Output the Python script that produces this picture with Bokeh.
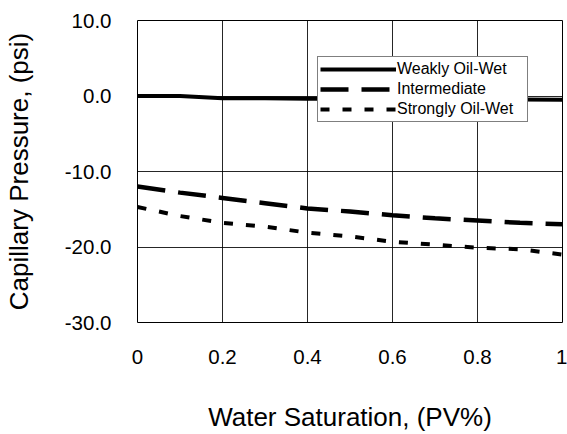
from bokeh.plotting import figure
from bokeh.models import Range1d, FixedTicker, Legend, LegendItem
from bokeh.embed import file_html
from bokeh.resources import INLINE

# ---- data ----
water_sat = [0.0, 0.1, 0.2, 0.3, 0.4, 0.5, 0.6, 0.7, 0.8, 0.9, 1.0]
weakly_oil_wet = [0.0, 0.0, -0.3, -0.3, -0.35, -0.35, -0.4, -0.4, -0.45, -0.45, -0.5]
intermediate = [-12.0, -12.8, -13.5, -14.2, -14.9, -15.3, -15.8, -16.2, -16.5, -16.8, -17.0]
strongly_oil_wet = [-14.7, -15.9, -16.8, -17.3, -18.1, -18.6, -19.3, -19.7, -20.1, -20.3, -21.0]

series_names = ["Weakly Oil-Wet", "Intermediate", "Strongly Oil-Wet"]

x_ticks = [0.0, 0.2, 0.4, 0.6, 0.8, 1.0]
x_tick_labels = ["0", "0.2", "0.4", "0.6", "0.8", "1"]
y_ticks = [10, 0, -10, -20, -30]
y_tick_labels = ["10.0", "0.0", "-10.0", "-20.0", "-30.0"]

x_title = "Water Saturation, (PV%)"
y_title = "Capillary Pressure, (psi)"

FONT = "Liberation Sans"

p = figure(width=567, height=434, output_backend="svg", toolbar_location=None,
           x_range=Range1d(0, 1), y_range=Range1d(-30, 10),
           min_border_left=137, min_border_right=5, min_border_top=20, min_border_bottom=111)

p.background_fill_color = "white"
p.border_fill_color = "white"
p.outline_line_color = "black"
p.outline_line_width = 1

for ax in (p.xaxis[0], p.yaxis[0]):
    ax.axis_line_color = None
    ax.major_tick_line_color = None
    ax.minor_tick_line_color = None
    ax.major_label_text_font = FONT
    ax.major_label_text_font_size = "20.5px"
    ax.major_label_text_color = "black"
    ax.axis_label_text_font = FONT
    ax.axis_label_text_font_size = "26px"
    ax.axis_label_text_font_style = "normal"
    ax.axis_label_text_color = "black"

p.xaxis.ticker = FixedTicker(ticks=x_ticks)
p.xaxis.major_label_overrides = {t: l for t, l in zip(x_ticks, x_tick_labels)}
p.yaxis.ticker = FixedTicker(ticks=y_ticks)
p.yaxis.major_label_overrides = {t: l for t, l in zip(y_ticks, y_tick_labels)}
p.xaxis.axis_label = x_title
p.yaxis.axis_label = y_title
p.xaxis.major_label_standoff = 21
p.xaxis.axis_label_standoff = 35
p.yaxis.major_label_standoff = 20
p.yaxis.axis_label_standoff = 28

for g in (p.xgrid[0], p.ygrid[0]):
    g.grid_line_color = "black"
    g.grid_line_width = 1
    g.grid_line_alpha = 0.85

r1 = p.line(water_sat, weakly_oil_wet, line_color="black", line_width=4)
r2 = p.line(water_sat, intermediate, line_color="black", line_width=4.5, line_dash="28 13")
r3 = p.line(water_sat, strongly_oil_wet, line_color="black", line_width=4, line_dash="9 13")

legend = Legend(items=[LegendItem(label=series_names[0], renderers=[r1]),
                       LegendItem(label=series_names[1], renderers=[r2]),
                       LegendItem(label=series_names[2], renderers=[r3])],
                location=(180, 200))
legend.label_text_font = FONT
legend.label_text_font_size = "16px"
legend.label_text_color = "black"
legend.glyph_width = 76
legend.glyph_height = 20
legend.label_height = 20
legend.label_width = 128
legend.spacing = 0
legend.padding = 2
legend.margin = 0
legend.label_standoff = 1
legend.border_line_color = "black"
legend.border_line_width = 1
legend.background_fill_color = "white"
legend.background_fill_alpha = 1
p.add_layout(legend)

open("out.html", "w").write(file_html(p, INLINE))
